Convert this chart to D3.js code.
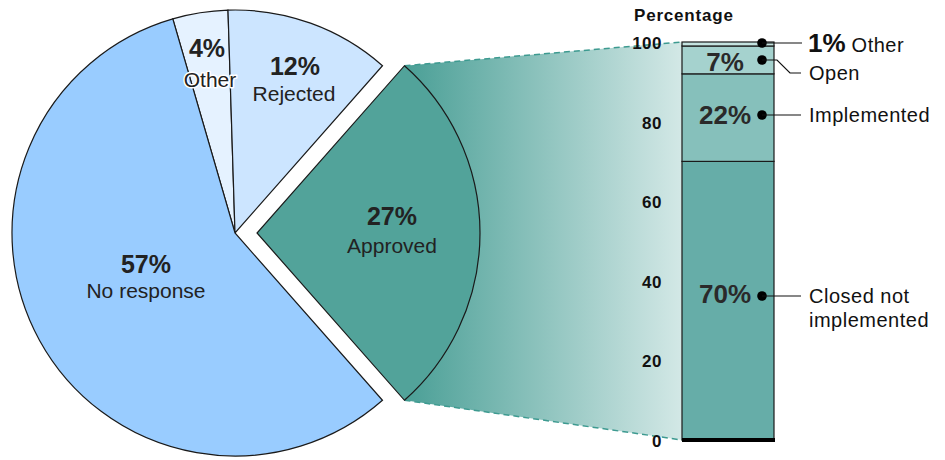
<!DOCTYPE html>
<html><head><meta charset="utf-8">
<script src="https://cdn.jsdelivr.net/npm/d3@7"></script>
<style>
html,body{margin:0;padding:0;background:#fff;}
svg{display:block;font-family:"Liberation Sans",Arial,sans-serif;}
</style></head>
<body>
<svg id="chart" width="945" height="460"></svg>
<script>
// ---- data ----
const pieCategories = ["Other", "Rejected", "Approved", "No response"];
const pieValues = [4, 12, 27, 57];
const pieColors = ["#e5f2ff", "#cce5ff", "#52a39a", "#99ccff"];

const barCategories = ["Closed not implemented", "Implemented", "Open", "Other"];
const barValues = [70, 22, 7, 1];
const barColors = ["#66ada8", "#86c0bb", "#a5d2ce", "#c4e3e0"];

const tickValues = [0, 20, 40, 60, 80, 100];

// ---- layout ----
const svg = d3.select("#chart");
const cx = 235, cy = 233, R = 223, explode = 22;
const barX0 = 682, barX1 = 774;
const y = d3.scaleLinear().domain([0, 100]).range([440, 42]);

const total = d3.sum(pieValues);
const approvedIdx = pieCategories.indexOf("Approved");
const before = d3.sum(pieValues.slice(0, approvedIdx));
const start = Math.PI / 2 - (before + pieValues[approvedIdx] / 2) / total * 2 * Math.PI;

const pie = d3.pie().sort(null).value(d => d)
  .startAngle(start).endAngle(start + 2 * Math.PI);
const arcs = pie(pieValues);
const arc = d3.arc().innerRadius(0).outerRadius(R);

const ap = arcs[approvedIdx];
const ex = explode;
const cornerTop = [cx + ex + R * Math.sin(ap.startAngle), cy - R * Math.cos(ap.startAngle)];
const cornerBot = [cx + ex + R * Math.sin(ap.endAngle), cy - R * Math.cos(ap.endAngle)];

// gradient connector
const defs = svg.append("defs");
const grad = defs.append("linearGradient").attr("id", "conn")
  .attr("gradientUnits", "userSpaceOnUse")
  .attr("x1", cornerTop[0]).attr("y1", 0).attr("x2", barX0).attr("y2", 0);
grad.append("stop").attr("offset", 0).attr("stop-color", "#4a9f96");
grad.append("stop").attr("offset", 1).attr("stop-color", "#d3e8e6");

svg.append("path")
  .attr("d", d3.line()([cornerTop, [barX0, y(100)], [barX0, y(0)], cornerBot]) + "Z")
  .attr("fill", "url(#conn)");
svg.append("line")
  .attr("x1", cornerTop[0]).attr("y1", cornerTop[1]).attr("x2", barX0).attr("y2", y(100))
  .attr("stroke", "#3d9a90").attr("stroke-width", 1.5).attr("stroke-dasharray", "6,4");
svg.append("line")
  .attr("x1", cornerBot[0]).attr("y1", cornerBot[1]).attr("x2", barX0).attr("y2", y(0))
  .attr("stroke", "#3d9a90").attr("stroke-width", 1.5).attr("stroke-dasharray", "6,4");

// pie
const g = svg.append("g").attr("transform", `translate(${cx},${cy})`);
g.selectAll("path.slice").data(arcs).enter().append("path")
  .attr("class", "slice")
  .attr("d", arc)
  .attr("fill", (d, i) => pieColors[i])
  .attr("stroke", "#1a1a1a").attr("stroke-width", 1.2)
  .attr("transform", (d, i) => i === approvedIdx ? `translate(${ex},0)` : null);

// pie labels
const pieLabelPos = [[207, 57, 210, 87], [295, 75, 294, 101], [392, 225, 392, 253], [146, 273, 146, 298]];
pieCategories.forEach((c, i) => {
  const [px, py, lx, ly] = pieLabelPos[i];
  svg.append("text").attr("x", px).attr("y", py).attr("text-anchor", "middle")
    .attr("font-size", 25).attr("font-weight", "bold").attr("fill", "#222")
    .text(pieValues[i] + "%");
  const t2 = svg.append("text").attr("x", lx).attr("y", ly).attr("text-anchor", "middle")
    .attr("font-size", 21).attr("fill", "#222").text(c);
  if (i === 0) {
    t2.attr("stroke", "#ffffff").attr("stroke-width", 3).attr("paint-order", "stroke")
      .attr("stroke-linejoin", "round");
  }
});

// stacked bar
const stack = [];
let acc = 0;
barValues.forEach((v, i) => { stack.push({ i, y0: acc, y1: acc + v }); acc += v; });
svg.selectAll("rect.seg").data(stack).enter().append("rect")
  .attr("class", "seg")
  .attr("x", barX0).attr("width", barX1 - barX0)
  .attr("y", d => y(d.y1)).attr("height", d => y(d.y0) - y(d.y1))
  .attr("fill", d => barColors[d.i])
  .attr("stroke", "#1a1a1a").attr("stroke-width", 1.2);
svg.append("line").attr("x1", barX0).attr("x2", barX1 + 1).attr("y1", y(0)).attr("y2", y(0))
  .attr("stroke", "#000").attr("stroke-width", 4);

// axis
const axis = d3.axisLeft(y).tickValues(tickValues).tickSize(0).tickPadding(0);
const ag = svg.append("g").attr("transform", `translate(662,1)`).call(axis);
ag.select(".domain").remove();
ag.selectAll("text").attr("font-size", 17).attr("font-weight", "bold")
  .attr("fill", "#111").attr("font-family", "Liberation Sans, Arial, sans-serif")
  .attr("letter-spacing", 0.5);
svg.append("text").attr("x", 634).attr("y", 21).attr("font-size", 17)
  .attr("font-weight", "bold").attr("fill", "#111").attr("letter-spacing", 0.8).text("Percentage");

// in-bar labels
const labelY = [303, 124, 71, null];
stack.forEach(d => {
  if (labelY[d.i] !== null) {
    svg.append("text").attr("x", 725).attr("y", labelY[d.i]).attr("text-anchor", "middle")
      .attr("font-size", 26).attr("font-weight", "bold").attr("fill", "#2a2a2a")
      .text(barValues[d.i] + "%");
  }
});
const dotX = 762;
const dotY = [296, 115, 60, 43];
dotY.forEach(dy => {
  svg.append("circle").attr("cx", dotX).attr("cy", dy).attr("r", 4.8).attr("fill", "#000");
});
// connectors
svg.append("line").attr("x1", dotX).attr("x2", 801).attr("y1", 296).attr("y2", 296).attr("stroke", "#111").attr("stroke-width", 1.2);
svg.append("line").attr("x1", dotX).attr("x2", 801).attr("y1", 115).attr("y2", 115).attr("stroke", "#111").attr("stroke-width", 1.2);
svg.append("path").attr("d", `M${dotX},60 L777,60 L790,73 L801,73`).attr("fill", "none").attr("stroke", "#111").attr("stroke-width", 1.2);
svg.append("line").attr("x1", dotX).attr("x2", 802).attr("y1", 43).attr("y2", 43).attr("stroke", "#111").attr("stroke-width", 1.2);

// right labels
const rl = (x, yy, t) => svg.append("text").attr("x", x).attr("y", yy).attr("font-size", 20)
  .attr("letter-spacing", 0.5).attr("fill", "#111").text(t);
rl(809, 303, "Closed not");
rl(809, 327, "implemented");
rl(809, 122, barCategories[1]);
rl(809, 80, barCategories[2]);
const oth = svg.append("text").attr("x", 808).attr("y", 52).attr("fill", "#111");
oth.append("tspan").attr("font-size", 26).attr("font-weight", "bold").text(barValues[3] + "%");
oth.append("tspan").attr("font-size", 20).attr("dx", 6).attr("letter-spacing", 0.5).text(barCategories[3]);
</script>
</body></html>
